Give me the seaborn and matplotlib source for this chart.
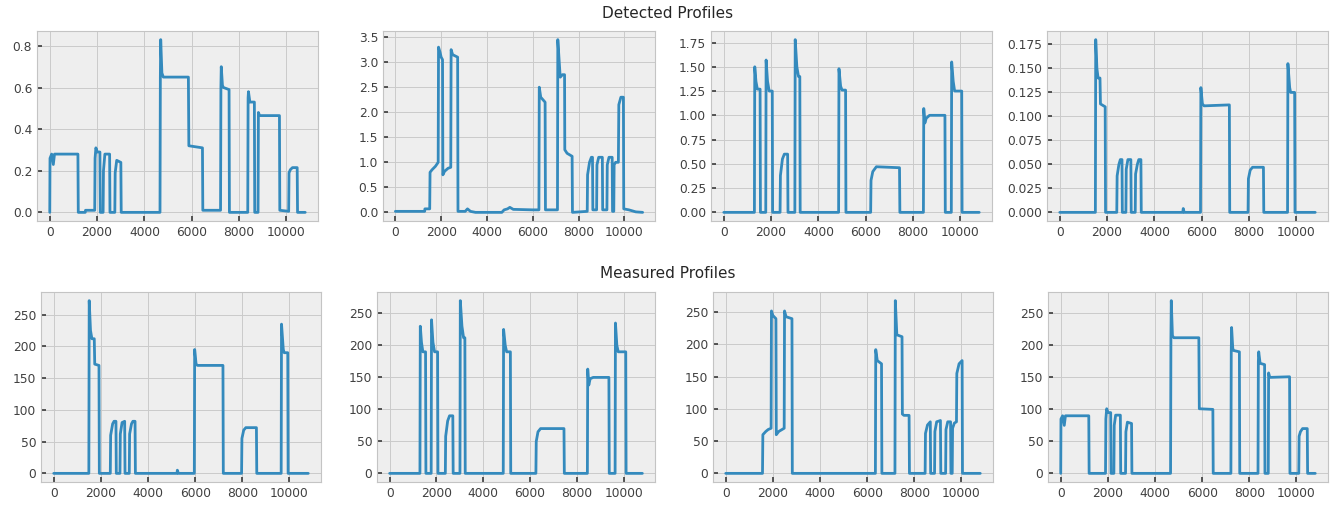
import matplotlib
matplotlib.use("Agg")
import matplotlib.pyplot as plt
from matplotlib.ticker import MultipleLocator
import seaborn as sns

# Each profile: (sample index, value) vertices
DET_1 = [(0, 0), (10, 0.26), (80, 0.28), (150, 0.23), (200, 0.28), (1190, 0.28), (1205, 0),
         (1500, 0), (1510, 0.01), (1900, 0.01), (1915, 0.26), (1950, 0.31), (2010, 0.29),
         (2120, 0.29), (2135, 0), (2255, 0), (2270, 0.2), (2330, 0.28), (2530, 0.28), (2545, 0),
         (2750, 0), (2765, 0.19), (2830, 0.25), (3005, 0.24), (3020, 0), (4660, 0), (4675, 0.65),
         (4690, 0.83), (4740, 0.67), (4800, 0.65), (5860, 0.65), (5880, 0.32), (6455, 0.31),
         (6470, 0.01), (7220, 0.01), (7235, 0.6), (7250, 0.70), (7300, 0.61), (7340, 0.6),
         (7580, 0.59), (7595, 0), (8370, 0), (8385, 0.55), (8400, 0.58), (8460, 0.53),
         (8650, 0.53), (8665, 0), (8805, 0), (8820, 0.48), (8870, 0.465), (9710, 0.465),
         (9725, 0.01), (10100, 0.005), (10115, 0.19), (10170, 0.205), (10260, 0.215),
         (10460, 0.215), (10475, 0), (10800, 0)]

DET_2 = [(0, 0.02), (1280, 0.02), (1290, 0.07), (1500, 0.07), (1515, 0.8), (1600, 0.85),
         (1750, 0.92), (1870, 1.0), (1885, 3.3), (1950, 3.2), (2000, 3.1), (2060, 3.05),
         (2075, 0.75), (2150, 0.82), (2300, 0.88), (2420, 0.9), (2435, 3.25), (2500, 3.15),
         (2720, 3.1), (2735, 0.02), (3050, 0.02), (3150, 0.07), (3280, 0.02), (3500, 0.0),
         (4650, 0.0), (4750, 0.05), (4900, 0.07), (5000, 0.1), (5150, 0.06), (6000, 0.05),
         (6270, 0.05), (6285, 2.5), (6350, 2.3), (6540, 2.2), (6555, 0.05), (7080, 0.05),
         (7095, 3.45), (7200, 2.7), (7300, 2.75), (7390, 2.75), (7400, 1.25), (7500, 1.18),
         (7720, 1.12), (7735, 0.0), (8380, 0.02), (8395, 0.75), (8480, 1.0), (8560, 1.1),
         (8610, 1.1), (8625, 0.05), (8790, 0.05), (8805, 0.95), (8880, 1.1), (9040, 1.1),
         (9055, 0.05), (9240, 0.05), (9255, 0.95), (9330, 1.1), (9470, 1.1), (9485, 0.02),
         (9540, 0.02), (9555, 0.95), (9620, 1.0), (9740, 1.0), (9760, 2.15), (9850, 2.3),
         (9960, 2.3), (9975, 0.07), (10200, 0.05), (10500, 0.01), (10800, 0.0)]

DET_3 = [(0, 0), (1295, 0), (1310, 1.5), (1360, 1.35), (1420, 1.27), (1535, 1.27), (1550, 0),
         (1775, 0), (1790, 1.57), (1850, 1.35), (1920, 1.25), (2050, 1.25), (2065, 0),
         (2380, 0), (2395, 0.38), (2480, 0.55), (2560, 0.6), (2700, 0.6), (2715, 0),
         (3005, 0), (3020, 1.78), (3090, 1.5), (3160, 1.4), (3215, 1.4), (3230, 0),
         (4855, 0), (4870, 1.48), (4940, 1.3), (5000, 1.26), (5150, 1.26), (5165, 0),
         (6210, 0), (6225, 0.33), (6300, 0.42), (6450, 0.47), (7430, 0.46), (7445, 0),
         (8440, 0), (8455, 1.07), (8500, 0.92), (8560, 0.97), (8700, 1.0), (9350, 1.0),
         (9365, 0), (9620, 0), (9635, 1.55), (9700, 1.35), (9760, 1.25), (10060, 1.25),
         (10075, 0), (10800, 0)]

DET_4 = [(0, 0), (1505, 0), (1520, 0.18), (1570, 0.15), (1620, 0.14), (1700, 0.14),
         (1720, 0.113), (1920, 0.11), (1935, 0), (2410, 0), (2425, 0.038), (2500, 0.05),
         (2560, 0.055), (2630, 0.055), (2645, 0), (2795, 0), (2810, 0.045), (2880, 0.055),
         (3005, 0.055), (3020, 0), (3190, 0), (3205, 0.04), (3280, 0.05), (3340, 0.055),
         (3430, 0.055), (3445, 0), (5200, 0), (5220, 0.004), (5260, 0), (5950, 0),
         (5965, 0.13), (6030, 0.113), (6100, 0.111), (7170, 0.112), (7185, 0), (7960, 0),
         (7975, 0.035), (8050, 0.044), (8150, 0.047), (8610, 0.047), (8625, 0), (9630, 0),
         (9645, 0.155), (9720, 0.13), (9760, 0.125), (9930, 0.125), (9945, 0), (10800, 0)]

MEAS_1 = [(0, 0), (1490, 0), (1505, 272), (1560, 225), (1620, 212), (1720, 212), (1740, 172),
          (1920, 170), (1935, 0), (2400, 0), (2415, 60), (2500, 78), (2560, 82), (2640, 82),
          (2655, 0), (2810, 0), (2825, 62), (2900, 80), (3010, 82), (3025, 0), (3205, 0),
          (3220, 62), (3300, 78), (3360, 82), (3450, 82), (3465, 0), (5230, 0), (5245, 5),
          (5290, 0), (5965, 0), (5980, 195), (6040, 172), (6100, 170), (7180, 170), (7195, 0),
          (7970, 0), (7985, 55), (8060, 68), (8150, 72), (8600, 72), (8615, 0), (9650, 0),
          (9665, 235), (9740, 195), (9780, 190), (9930, 190), (9945, 0), (10800, 0)]

MEAS_2 = [(0, 0), (1295, 0), (1310, 230), (1360, 205), (1420, 190), (1535, 190), (1550, 0),
          (1775, 0), (1790, 240), (1850, 205), (1920, 190), (2050, 190), (2065, 0), (2380, 0),
          (2395, 58), (2480, 82), (2560, 90), (2700, 90), (2715, 0), (3005, 0), (3020, 270),
          (3090, 230), (3160, 212), (3215, 212), (3230, 0), (4855, 0), (4870, 225),
          (4940, 200), (5000, 190), (5160, 190), (5175, 0), (6250, 0), (6265, 50), (6340, 65),
          (6450, 70), (7450, 70), (7465, 0), (8450, 0), (8465, 163), (8510, 138), (8570, 148),
          (8700, 150), (9370, 150), (9385, 0), (9635, 0), (9650, 235), (9710, 200),
          (9770, 190), (10090, 190), (10105, 0), (10800, 0)]

MEAS_3 = [(0, 0), (1560, 0), (1575, 60), (1700, 65), (1800, 68), (1925, 70), (1940, 252),
          (2000, 245), (2130, 240), (2145, 60), (2250, 65), (2480, 70), (2495, 252),
          (2560, 243), (2810, 240), (2825, 0), (6350, 0), (6365, 192), (6430, 175),
          (6610, 170), (6625, 0), (7180, 0), (7195, 268), (7260, 215), (7480, 212),
          (7495, 92), (7560, 90), (7780, 90), (7795, 0), (8460, 0), (8475, 62), (8560, 75),
          (8680, 80), (8695, 0), (8860, 0), (8875, 65), (8950, 80), (9110, 82), (9125, 0),
          (9330, 0), (9345, 68), (9420, 80), (9540, 80), (9555, 0), (9610, 0), (9625, 70),
          (9700, 78), (9790, 80), (9805, 155), (9900, 170), (10030, 175), (10045, 0),
          (10800, 0)]

MEAS_4 = [(0, 0), (10, 85), (80, 90), (150, 75), (200, 90), (1190, 90), (1205, 0), (1900, 0),
          (1915, 85), (1950, 101), (2010, 95), (2120, 95), (2135, 0), (2255, 0), (2270, 75),
          (2330, 91), (2530, 91), (2545, 0), (2750, 0), (2765, 65), (2830, 80), (3005, 78),
          (3020, 0), (4660, 0), (4675, 210), (4690, 270), (4740, 215), (4800, 212),
          (5860, 212), (5880, 101), (6455, 100), (6470, 0), (7220, 0), (7235, 190),
          (7250, 228), (7300, 195), (7340, 192), (7580, 190), (7595, 0), (8370, 0),
          (8385, 175), (8400, 190), (8460, 172), (8650, 170), (8665, 0), (8805, 0),
          (8820, 157), (8870, 150), (9710, 151), (9725, 0), (10100, 0), (10115, 58),
          (10170, 65), (10260, 70), (10460, 70), (10475, 0), (10800, 0)]

DETECTED = [DET_1, DET_2, DET_3, DET_4]
MEASURED = [MEAS_1, MEAS_2, MEAS_3, MEAS_4]
ROW_TITLES = ["Detected Profiles", "Measured Profiles"]
X_TICKS = [0, 2000, 4000, 6000, 8000, 10000]
DET_Y_STEP = [0.2, 0.5, 0.25, 0.025]
MEAS_Y_STEP = [50, 50, 50, 50]

LINE_COLOR = "#348ABD"

sns.set_theme(style="darkgrid", rc={
    "axes.facecolor": "#EEEEEE",
    "axes.edgecolor": "#C4C4C4",
    "axes.linewidth": 0.8,
    "grid.color": "#CACACA",
    "grid.linewidth": 0.7,
    "grid.linestyle": "-",
    "xtick.direction": "in",
    "ytick.direction": "in",
    "xtick.bottom": True,
    "ytick.left": True,
    "xtick.major.size": 3.5,
    "ytick.major.size": 3.5,
    "xtick.color": ".25",
    "ytick.color": ".25",
    "xtick.labelsize": 8.8,
    "ytick.labelsize": 8.8,
})
plt.rcParams["font.family"] = ["DejaVu Sans"]

W, H = 1336, 520
fig = plt.figure(figsize=(W / 100, H / 100), dpi=100)

# axes boxes in pixels (left, right) per row, plus row top/bottom
top_cols = [(37, 318), (383, 655), (711, 992), (1047, 1328)]
bot_cols = [(41, 321), (377, 655), (713, 993), (1048, 1328)]
rows = [(31, 221, top_cols, DETECTED, DET_Y_STEP),
        (292, 482, bot_cols, MEASURED, MEAS_Y_STEP)]

for (y0, y1, cols, profiles, steps), title in zip(rows, ROW_TITLES):
    for (x0, x1), prof, step in zip(cols, profiles, steps):
        ax = fig.add_axes([x0 / W, 1 - y1 / H, (x1 - x0) / W, (y1 - y0) / H])
        t = [p[0] for p in prof]
        v = [p[1] for p in prof]
        sns.lineplot(x=t, y=v, ax=ax, sort=False, estimator=None,
                     color=LINE_COLOR, linewidth=2.0)
        ax.set_xticks(X_TICKS)
        ax.yaxis.set_major_locator(MultipleLocator(step))
        ax.set_xlabel("")
        ax.set_ylabel("")
        ax.grid(True)
    fig.text(668 / W, 1 - (y0 - 18) / H, title, ha="center", va="center",
             fontsize=11, color=".15")

fig.savefig("out.png", dpi=100)
